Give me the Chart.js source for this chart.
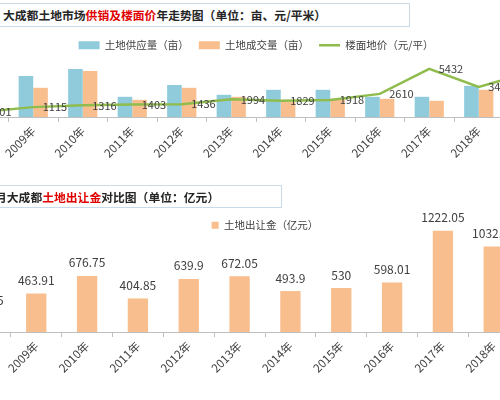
<!DOCTYPE html>
<html lang="zh">
<head>
    <meta charset="UTF-8">
    <title>大成都土地市场</title>
    <script src="https://cdn.jsdelivr.net/npm/chart.js@4.4.0/dist/chart.umd.min.js"></script>
    <style>
        html, body { margin: 0; padding: 0; background: #fff; }
        body { position: relative; width: 500px; height: 400px; overflow: hidden; font-family: "Noto Sans CJK SC", sans-serif; }
        .title { position: absolute; left: -20px; box-sizing: border-box; border: 1px solid #c9dbe9; font-size: 11.8px; font-weight: bold; color: #262626; white-space: nowrap; }
        .title .red { color: #e00000; }
        canvas { position: absolute; }
    </style>
</head>
<body>
    <div class="title" style="top:3px; width:430px; height:24px; line-height:22px; padding-left:22px;">大成都土地市场<span class="red">供销及楼面价</span>年走势图（单位：亩、元/平米）</div>
    <canvas id="supplyChart" width="611" height="137" style="left:-58px; top:30px;"></canvas>

    <canvas id="revenueChart" width="650" height="187" style="left:-80px; top:200px;"></canvas>
    <div class="title" style="top:185px; width:302px; height:23px; line-height:21px; padding-left:14px;">月大成都<span class="red">土地出让金</span>对比图（单位：亿元）</div>

    <script>
        // data (2008 and 2019 are cut off at the edges)
        const years = ['2008年', '2009年', '2010年', '2011年', '2012年', '2013年', '2014年', '2015年', '2016年', '2017年', '2018年', '2019年'];
        const supplyArea = [null, 20500, 24000, 10100, 16000, 11100, 13600, 13600, 10100, 10100, 15600, null];
        const soldArea = [null, 14600, 23000, 8600, 14600, 10100, 7600, 9100, 9100, 8100, 13600, null];
        const floorPrice = [601, 1115, 1316, 1403, 1436, 1994, 1829, 1918, 2610, 5432, 3406, 5000];
        const landRevenue = [220.35, 463.91, 676.75, 404.85, 639.9, 672.05, 493.9, 530, 598.01, 1222.05, 1032.45, null];

        const fontFamily = '"Noto Sans CJK SC", sans-serif';
        const blue = '#8fcbdb';
        const orange = '#f9be8e';
        const green = '#8fbc4c';

        Chart.defaults.font.family = fontFamily;
        Chart.defaults.color = '#404040';

        // writes the value next to each point / above each bar
        const valueLabels = {
            id: 'valueLabels',
            afterDatasetsDraw(chart, args, opts) {
                const ctx = chart.ctx;
                const ds = chart.data.datasets[opts.datasetIndex];
                ctx.save();
                ctx.font = opts.font;
                ctx.fillStyle = '#404040';
                ctx.textBaseline = 'middle';
                chart.getDatasetMeta(opts.datasetIndex).data.forEach((el, i) => {
                    const v = ds.data[i];
                    if (v == null) return;
                    if (opts.mode === 'right') {
                        ctx.textAlign = 'left';
                        ctx.fillText(String(v), el.x + 9.5, el.y);
                    } else {
                        ctx.textAlign = 'center';
                        ctx.fillText(String(v), el.x, el.y - 13);
                    }
                });
                ctx.restore();
            }
        };

        function yearAxis(axisHeight) {
            return {
                offset: true,
                grid: { offset: true, drawOnChartArea: false, color: '#bfbfbf', tickLength: 5 },
                border: { color: '#bfbfbf' },
                ticks: { autoSkip: false, minRotation: 45, maxRotation: 45, padding: 2, color: '#404040', font: { size: 11.5 } },
                afterFit(scale) {
                    scale.paddingLeft = 0;
                    scale.paddingRight = 0;
                    scale.height = axisHeight;
                }
            };
        }

        new Chart(document.getElementById('supplyChart'), {
            type: 'bar',
            data: {
                labels: years,
                datasets: [{
                    label: '土地供应量（亩）',
                    data: supplyArea,
                    backgroundColor: blue,
                    pointStyle: 'rect',
                    yAxisID: 'y',
                    order: 1,
                    categoryPercentage: 0.59,
                    barPercentage: 1
                }, {
                    label: '土地成交量（亩）',
                    data: soldArea,
                    backgroundColor: orange,
                    pointStyle: 'rect',
                    yAxisID: 'y',
                    order: 1,
                    categoryPercentage: 0.59,
                    barPercentage: 1
                }, {
                    type: 'line',
                    label: '楼面地价（元/平）',
                    data: floorPrice,
                    borderColor: green,
                    backgroundColor: green,
                    borderWidth: 2.5,
                    pointRadius: 0,
                    pointStyle: 'line',
                    tension: 0,
                    yAxisID: 'y2',
                    order: 0
                }]
            },
            plugins: [valueLabels],
            options: {
                responsive: false,
                animation: false,
                devicePixelRatio: 1,
                events: [],
                layout: { autoPadding: false, padding: { left: 17, right: 0, top: 0, bottom: 0 } },
                scales: {
                    x: yearAxis(50),
                    y: { display: false, min: 0, max: 31000 },
                    y2: { display: false, min: 0, max: 7000 }
                },
                plugins: {
                    legend: {
                        position: 'top',
                        maxHeight: 25,
                        labels: {
                            usePointStyle: true,
                            pointStyleWidth: 21,
                            boxHeight: 8,
                            padding: 10,
                            color: '#404040',
                            font: { size: 10.5 },
                            sort: (a, b) => a.datasetIndex - b.datasetIndex
                        }
                    },
                    tooltip: { enabled: false },
                    valueLabels: { datasetIndex: 2, mode: 'right', font: '11px ' + fontFamily }
                }
            }
        });

        new Chart(document.getElementById('revenueChart'), {
            type: 'bar',
            data: {
                labels: years,
                datasets: [{
                    label: '土地出让金（亿元）',
                    data: landRevenue,
                    backgroundColor: orange,
                    pointStyle: 'rect',
                    categoryPercentage: 1,
                    barPercentage: 0.4
                }]
            },
            plugins: [valueLabels],
            options: {
                responsive: false,
                animation: false,
                devicePixelRatio: 1,
                events: [],
                layout: { autoPadding: false, padding: { left: 40, right: 0, top: 20, bottom: 0 } },
                scales: {
                    x: yearAxis(55),
                    y: { display: false, min: 0, max: 1230 }
                },
                plugins: {
                    legend: {
                        position: 'top',
                        maxHeight: 10,
                        labels: {
                            usePointStyle: true,
                            pointStyleWidth: 7,
                            boxHeight: 7,
                            padding: 0,
                            color: '#404040',
                            font: { size: 10.5 }
                        }
                    },
                    tooltip: { enabled: false },
                    valueLabels: { datasetIndex: 0, mode: 'top', font: '12px ' + fontFamily }
                }
            }
        });
    </script>
</body>
</html>
